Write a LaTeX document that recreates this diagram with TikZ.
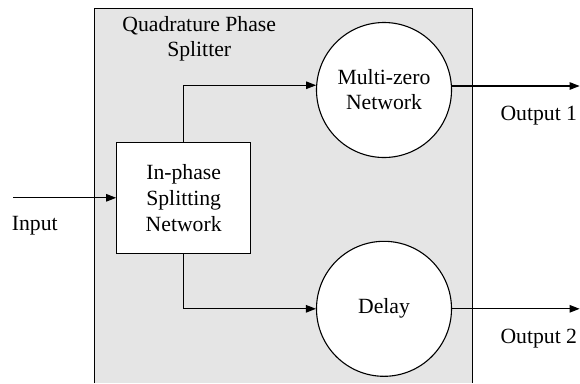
\documentclass[tikz,border=0pt]{standalone}
\usepackage{fontspec}
\setmainfont{Liberation Serif}
\usetikzlibrary{arrows.meta}
\definecolor{panelgrey}{HTML}{E5E5E5}
\tikzset{
  txt/.style={font=\fontsize{21.7bp}{25bp}\selectfont, inner sep=0pt},
  blockbox/.style={txt, draw, fill=white, line width=1.1bp, rectangle, minimum width=134bp, minimum height=111bp, align=center},
  blockcirc/.style={txt, draw, fill=white, line width=1.1bp, circle, minimum size=135bp, align=center},
  conn/.style={line width=1.1bp, -{Triangle[length=10bp,width=7.5bp]}},
}
\begin{document}
\begin{tikzpicture}[x=1bp,y=-1bp]
\useasboundingbox (0,0) rectangle (580,383);
% panel
\fill[panelgrey] (94.5,8.5) rectangle (472.8,383);
\draw[line width=1.1bp] (94.5,383) -- (94.5,8.5) -- (472.8,8.5) -- (472.8,383);
\node[txt, align=center] (title) at (199.2,39.2) {Quadrature Phase\\Splitter};
% blocks
\node[blockbox, font=\fontsize{21.7bp}{26bp}\selectfont] (inb) at (183.7,197.8) {In-phase\\Splitting\\Network};
\node[blockcirc] (mz) at (384,90) {Multi-zero\\Network};
\node[blockcirc] (dl) at (384,308.8) {Delay};
% terminals
\coordinate (inl) at (13.3,197.8);
\coordinate (o1) at (579.6,86);
\coordinate (o2) at (579.6,308.8);
\node[txt, anchor=base] (inlab) at (34.8,230.7) {Input};
\node[txt, anchor=base] (o1lab) at (538.8,120) {Output 1};
\node[txt, anchor=base] (o2lab) at (538.8,343) {Output 2};
% connectors
\draw[conn] (inl) -- (inb.west);
\draw[conn] (inb.north) |- (mz.176.6);
\draw[conn] (inb.south) |- (dl.west);
\draw[conn] (mz.east |- o1) -- (o1);
\draw[conn] (dl.east) -- (o2);
\end{tikzpicture}
\end{document}
